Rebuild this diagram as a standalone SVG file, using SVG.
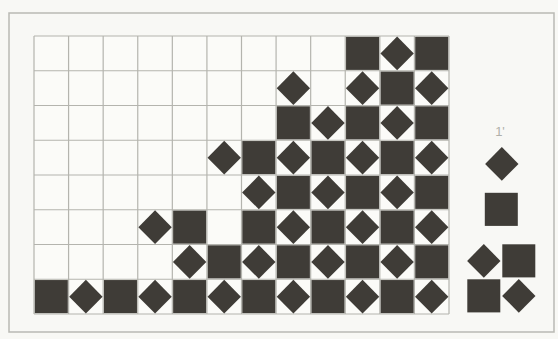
<svg xmlns="http://www.w3.org/2000/svg" xmlns:xlink="http://www.w3.org/1999/xlink" width="558" height="339" viewBox="0 0 558 339">
<style>
.bg{fill:#f8f8f5}
.frame{fill:none;stroke:#b9b9b4;stroke-width:1.5}
.grid{stroke:#b4b4ae;stroke-width:1.2}
.dk{fill:#3f3c37}
.cell{fill:#fbfbf8}
.lbl{font-family:"Liberation Sans",Arial,sans-serif;font-size:13px;fill:#b0b0aa}
</style>
<defs>
<rect id="sq" class="dk" x="0.8" y="0.8" width="33" height="33.1"/>
<polygon id="dm" class="dk" points="17.3,0.6 34,17.4 17.3,34.2 0.6,17.4"/>
</defs>
<rect class="bg" x="0" y="0" width="558" height="339"/>
<rect class="frame" x="9" y="13" width="545" height="319"/>
<g id="board">
<rect class="cell" x="34" y="36" width="415" height="278"/>
<g id="grid" class="grid">
<line x1="34" y1="36" x2="34" y2="314"/><line x1="68.58" y1="36" x2="68.58" y2="314"/><line x1="103.17" y1="36" x2="103.17" y2="314"/><line x1="137.75" y1="36" x2="137.75" y2="314"/><line x1="172.33" y1="36" x2="172.33" y2="314"/><line x1="206.92" y1="36" x2="206.92" y2="314"/><line x1="241.5" y1="36" x2="241.5" y2="314"/><line x1="276.08" y1="36" x2="276.08" y2="314"/><line x1="310.67" y1="36" x2="310.67" y2="314"/><line x1="345.25" y1="36" x2="345.25" y2="314"/><line x1="379.83" y1="36" x2="379.83" y2="314"/><line x1="414.42" y1="36" x2="414.42" y2="314"/><line x1="449" y1="36" x2="449" y2="314"/>
<line x1="34" y1="36" x2="449" y2="36"/><line x1="34" y1="70.75" x2="449" y2="70.75"/><line x1="34" y1="105.5" x2="449" y2="105.5"/><line x1="34" y1="140.25" x2="449" y2="140.25"/><line x1="34" y1="175" x2="449" y2="175"/><line x1="34" y1="209.75" x2="449" y2="209.75"/><line x1="34" y1="244.5" x2="449" y2="244.5"/><line x1="34" y1="279.25" x2="449" y2="279.25"/><line x1="34" y1="314" x2="449" y2="314"/>
</g>
<g id="row0">
<use href="#sq" x="345.25" y="36"/><use href="#dm" x="379.83" y="36"/><use href="#sq" x="414.42" y="36"/>
</g>
<g id="row1">
<use href="#dm" x="276.08" y="70.75"/><use href="#dm" x="345.25" y="70.75"/><use href="#sq" x="379.83" y="70.75"/><use href="#dm" x="414.42" y="70.75"/>
</g>
<g id="row2">
<use href="#sq" x="276.08" y="105.5"/><use href="#dm" x="310.67" y="105.5"/><use href="#sq" x="345.25" y="105.5"/><use href="#dm" x="379.83" y="105.5"/><use href="#sq" x="414.42" y="105.5"/>
</g>
<g id="row3">
<use href="#dm" x="206.92" y="140.25"/><use href="#sq" x="241.5" y="140.25"/><use href="#dm" x="276.08" y="140.25"/><use href="#sq" x="310.67" y="140.25"/><use href="#dm" x="345.25" y="140.25"/><use href="#sq" x="379.83" y="140.25"/><use href="#dm" x="414.42" y="140.25"/>
</g>
<g id="row4">
<use href="#dm" x="241.5" y="175"/><use href="#sq" x="276.08" y="175"/><use href="#dm" x="310.67" y="175"/><use href="#sq" x="345.25" y="175"/><use href="#dm" x="379.83" y="175"/><use href="#sq" x="414.42" y="175"/>
</g>
<g id="row5">
<use href="#dm" x="137.75" y="209.75"/><use href="#sq" x="172.33" y="209.75"/><use href="#sq" x="241.5" y="209.75"/><use href="#dm" x="276.08" y="209.75"/><use href="#sq" x="310.67" y="209.75"/><use href="#dm" x="345.25" y="209.75"/><use href="#sq" x="379.83" y="209.75"/><use href="#dm" x="414.42" y="209.75"/>
</g>
<g id="row6">
<use href="#dm" x="172.33" y="244.5"/><use href="#sq" x="206.92" y="244.5"/><use href="#dm" x="241.5" y="244.5"/><use href="#sq" x="276.08" y="244.5"/><use href="#dm" x="310.67" y="244.5"/><use href="#sq" x="345.25" y="244.5"/><use href="#dm" x="379.83" y="244.5"/><use href="#sq" x="414.42" y="244.5"/>
</g>
<g id="row7">
<use href="#sq" x="34" y="279.25"/><use href="#dm" x="68.58" y="279.25"/><use href="#sq" x="103.17" y="279.25"/><use href="#dm" x="137.75" y="279.25"/><use href="#sq" x="172.33" y="279.25"/><use href="#dm" x="206.92" y="279.25"/><use href="#sq" x="241.5" y="279.25"/><use href="#dm" x="276.08" y="279.25"/><use href="#sq" x="310.67" y="279.25"/><use href="#dm" x="345.25" y="279.25"/><use href="#sq" x="379.83" y="279.25"/><use href="#dm" x="414.42" y="279.25"/>
</g>
</g>
<g id="legend">
<text class="lbl" x="500" y="136" text-anchor="middle">1'</text>
<use href="#dm" x="484.5" y="146.5"/>
<use href="#sq" x="484" y="192"/>
<use href="#dm" x="466.5" y="243.5"/>
<use href="#sq" x="501.5" y="243.5"/>
<use href="#sq" x="466.5" y="278.5"/>
<use href="#dm" x="501.5" y="278.5"/>
</g>
</svg>
